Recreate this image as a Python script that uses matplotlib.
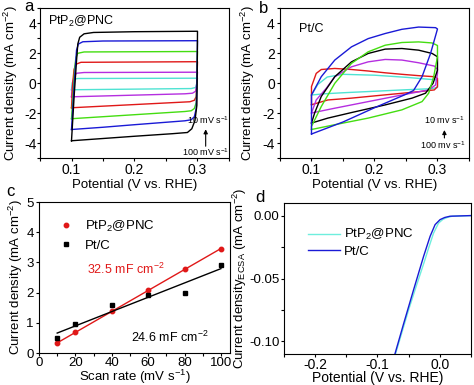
import numpy as np
import matplotlib
matplotlib.use("Agg")
import matplotlib.pyplot as plt
from matplotlib.ticker import MultipleLocator, FormatStrFormatter

plt.rcParams['font.family'] = ['Liberation Sans', 'DejaVu Sans']
plt.rcParams['mathtext.fontset'] = 'custom'
plt.rcParams['mathtext.rm'] = 'Liberation Sans'
plt.rcParams['mathtext.it'] = 'Liberation Sans:italic'
plt.rcParams['axes.unicode_minus'] = False
plt.rcParams['font.size'] = 9

# --- panel a: CVs of PtP2@PNC (closed loops, potential V / current mA cm-2)
a_black = [(0.100, -3.85), (0.104, -1.0), (0.108, 1.5), (0.110, 2.6), (0.113, 3.05), (0.120, 3.28),
           (0.135, 3.37), (0.200, 3.42), (0.300, 3.45), (0.2995, 0.5), (0.299, -1.5), (0.296, -2.5),
           (0.291, -3.05), (0.284, -3.3), (0.260, -3.38), (0.200, -3.55), (0.150, -3.7), (0.100, -3.85)]
a_blue = [(0.100, -3.1), (0.103, -1.0), (0.106, 1.0), (0.108, 2.2), (0.111, 2.6), (0.118, 2.75),
          (0.150, 2.8), (0.300, 2.82), (0.299, 0.0), (0.298, -1.7), (0.295, -2.25), (0.290, -2.45),
          (0.280, -2.52), (0.200, -2.78), (0.150, -2.95), (0.100, -3.1)]
a_green = [(0.100, -2.38), (0.103, -0.5), (0.105, 1.0), (0.107, 1.7), (0.110, 1.98), (0.120, 2.07),
           (0.300, 2.1), (0.299, 0.0), (0.298, -1.3), (0.295, -1.7), (0.290, -1.85), (0.280, -1.9),
           (0.100, -2.38)]
a_red = [(0.100, -1.65), (0.102, 0.0), (0.104, 0.9), (0.107, 1.25), (0.115, 1.38), (0.300, 1.42),
         (0.299, 0.0), (0.298, -0.9), (0.295, -1.15), (0.288, -1.25), (0.100, -1.65)]
a_magenta = [(0.100, -0.92), (0.102, 0.0), (0.104, 0.45), (0.108, 0.65), (0.120, 0.70), (0.300, 0.72),
             (0.299, 0.0), (0.297, -0.55), (0.292, -0.68), (0.280, -0.72), (0.100, -0.92)]
a_cyan = [(0.100, -0.45), (0.101, 0.0), (0.104, 0.25), (0.110, 0.30), (0.300, 0.32), (0.299, 0.0),
          (0.297, -0.3), (0.290, -0.37), (0.100, -0.45)]

# --- panel b: CVs of Pt/C
b_blue = [(0.100, -3.4), (0.100, -0.8), (0.1155, 0.42), (0.137, 1.53), (0.1635, 2.41), (0.190, 2.96),
          (0.217, 3.3), (0.2435, 3.58), (0.270, 3.73), (0.297, 3.69), (0.300, 3.6), (0.289, 1.97),
          (0.2755, 0.42), (0.262, -0.5), (0.250, -0.75), (0.200, -1.65), (0.150, -2.6), (0.100, -3.4)]
b_green = [(0.100, -3.1), (0.100, -2.9), (0.1155, -1.57), (0.137, -0.02), (0.1635, 1.31), (0.190, 2.08),
           (0.217, 2.52), (0.2435, 2.7), (0.270, 2.74), (0.2915, 2.67), (0.300, 2.5), (0.300, 1.75),
           (0.294, 0.42), (0.286, -0.68), (0.2755, -1.24), (0.2435, -1.79), (0.190, -2.34),
           (0.137, -2.78), (0.100, -3.1)]
b_black = [(0.100, -2.67), (0.105, -2.0), (0.1155, -0.9), (0.137, 0.42), (0.1635, 1.41), (0.190, 1.97),
           (0.217, 2.26), (0.2435, 2.3), (0.270, 2.19), (0.2915, 1.97), (0.300, 1.75), (0.300, 0.86),
           (0.293, -0.02), (0.281, -0.68), (0.2595, -1.01), (0.217, -1.46), (0.1635, -1.97),
           (0.126, -2.34), (0.100, -2.67)]
b_magenta = [(0.100, -2.0), (0.1075, -1.13), (0.1235, -0.35), (0.137, 0.42), (0.1635, 1.08), (0.190, 1.41),
             (0.217, 1.57), (0.2435, 1.53), (0.270, 1.35), (0.295, 1.13), (0.300, 0.9), (0.300, 0.64),
             (0.297, -0.13), (0.286, -0.46), (0.2435, -0.8), (0.190, -1.24), (0.137, -1.68), (0.100, -2.0)]
b_red = [(0.100, -1.45), (0.100, -0.24), (0.1075, 0.64), (0.1155, 0.9), (0.137, 0.97), (0.1635, 0.9),
         (0.190, 0.8), (0.217, 0.68), (0.2435, 0.58), (0.270, 0.49), (0.295, 0.42), (0.300, 0.31),
         (0.300, -0.24), (0.295, -0.46), (0.270, -0.58), (0.217, -0.79), (0.163, -1.01), (0.126, -1.13),
         (0.100, -1.45)]
b_cyan = [(0.100, -0.8), (0.110, -0.1), (0.125, 0.4), (0.150, 0.58), (0.200, 0.52), (0.250, 0.38),
          (0.300, 0.2), (0.300, -0.3), (0.290, -0.38), (0.250, -0.45), (0.200, -0.55), (0.150, -0.65),
          (0.120, -0.72), (0.100, -0.8)]

# --- panel c: current density vs scan rate
scan_rate = [10, 20, 40, 60, 80, 100]
j_ptp2 = [0.33, 0.68, 1.38, 2.08, 2.77, 3.45]
j_ptc = [0.50, 0.95, 1.60, 1.92, 2.00, 2.92]

# --- panel d: ECSA-normalised LSV
d_ptp2_x = [-0.071, -0.062, -0.050, -0.037, -0.025, -0.018, -0.010, -0.002, 0.005, 0.012, 0.020, 0.050]
d_ptp2_y = [-0.110, -0.095, -0.075, -0.055, -0.037, -0.026, -0.014, -0.006, -0.003, -0.0015, -0.0005, 0.0]
d_ptc_x = [-0.0725, -0.058, -0.042, -0.026, -0.0155, -0.0075, 0.0005, 0.008, 0.0165, 0.050]
d_ptc_y = [-0.111, -0.086, -0.059, -0.0325, -0.0165, -0.0072, -0.0032, -0.0015, -0.0005, 0.0]

BLUE = '#1a1ad6'
GREEN = '#44dd11'
RED = '#e01818'
MAGENTA = '#b52ee0'
CYAN = '#4fe3d3'
CYAN_D = '#6eeedd'


def style(ax, size, ypad=1.5, xpad=1.5):
    ax.tick_params(which='both', direction='out', length=2.2, width=0.8, labelsize=size)
    ax.tick_params(axis='x', pad=xpad)
    ax.tick_params(axis='y', pad=ypad)
    for s in ax.spines.values():
        s.set_linewidth(0.8)


def loop(ax, pts, color):
    pts = np.array(pts)
    ax.plot(pts[:, 0], pts[:, 1], color=color, lw=1.0)


fig = plt.figure(figsize=(4.74, 3.85), dpi=100)
ax_a = fig.add_axes([0.0844, 0.5896, 0.3987, 0.3896])
ax_b = fig.add_axes([0.5907, 0.5896, 0.3987, 0.3896])
ax_c = fig.add_axes([0.0823, 0.0831, 0.4030, 0.3922])
ax_d = fig.add_axes([0.5990, 0.0805, 0.3945, 0.3922])

# panel a
for pts, col in [(a_cyan, CYAN), (a_magenta, MAGENTA), (a_red, RED), (a_green, GREEN),
                 (a_blue, BLUE), (a_black, 'black')]:
    loop(ax_a, pts, col)
ax_a.text(0.042, 0.913, 'PtP$_2$@PNC', transform=ax_a.transAxes, fontsize=9, va='center')
ax_a.text(0.316, -2.47, '10 mV s$^{-1}$', fontsize=6.5, ha='center', va='center')
ax_a.text(0.313, -4.6, '100 mV s$^{-1}$', fontsize=6.5, ha='center', va='center')
ax_a.annotate('', xy=(0.313, -2.9), xytext=(0.313, -4.4),
              arrowprops=dict(arrowstyle='-|>', color='black', lw=0.8, mutation_scale=6))

# panel b
for pts, col in [(b_cyan, CYAN), (b_red, RED), (b_magenta, MAGENTA), (b_black, 'black'),
                 (b_green, GREEN), (b_blue, BLUE)]:
    loop(ax_b, pts, col)
ax_b.text(0.099, 0.861, 'Pt/C', transform=ax_b.transAxes, fontsize=9, va='center')
ax_b.text(0.311, -2.45, '10 mv s$^{-1}$', fontsize=6.5, ha='center', va='center')
ax_b.text(0.308, -4.11, '100 mv s$^{-1}$', fontsize=6.5, ha='center', va='center')
ax_b.annotate('', xy=(0.311, -2.95), xytext=(0.311, -3.85),
              arrowprops=dict(arrowstyle='-|>', color='black', lw=0.8, mutation_scale=6))

for ax, ypad, lpad in ((ax_a, 0.3, 3.0), (ax_b, 1.5, 3.5)):
    ax.set_xlim(0.05, 0.35)
    ax.set_ylim(-5, 5)
    ax.xaxis.set_major_locator(MultipleLocator(0.1))
    ax.xaxis.set_minor_locator(MultipleLocator(0.05))
    ax.yaxis.set_major_locator(MultipleLocator(2))
    ax.yaxis.set_minor_locator(MultipleLocator(1))
    ax.set_xlabel('Potential (V vs. RHE)', fontsize=9.5, labelpad=1)
    ax.set_ylabel('Current density (mA cm$^{-2}$)', fontsize=9.5, labelpad=lpad)
    style(ax, 10, ypad=ypad)

# panel c
sr = np.array(scan_rate, dtype=float)
for jv, col, mk, lab in [(j_ptp2, RED, 'o', 'PtP$_2$@PNC'), (j_ptc, 'black', 's', 'Pt/C')]:
    k, b0 = np.polyfit(sr, jv, 1)
    ax_c.plot(sr, k * sr + b0, color=col, lw=1.0)
    ax_c.plot(sr, jv, mk, color=col, ms=3.2, ls='none', label=lab)
ax_c.legend(loc='upper left', bbox_to_anchor=(0.06, 0.95), frameon=False, fontsize=9.5,
            handlelength=1.0, handletextpad=0.9, labelspacing=0.45, borderpad=0.2)
ax_c.text(0.455, 0.556, '32.5 mF cm$^{-2}$', color=RED, transform=ax_c.transAxes,
          fontsize=9, ha='center', va='center')
ax_c.text(0.686, 0.106, '24.6 mF cm$^{-2}$', color='black', transform=ax_c.transAxes,
          fontsize=9, ha='center', va='center')
ax_c.set_xlim(0, 105)
ax_c.set_ylim(0, 5)
ax_c.xaxis.set_major_locator(MultipleLocator(20))
ax_c.xaxis.set_minor_locator(MultipleLocator(10))
ax_c.yaxis.set_major_locator(MultipleLocator(1))
ax_c.set_xlabel('Scan rate (mV s$^{-1}$)', fontsize=9.5, labelpad=-1)
ax_c.set_ylabel('Current density (mA cm$^{-2}$)', fontsize=9.5, labelpad=1)
style(ax_c, 9.5, xpad=0.8)

# panel d
ax_d.plot(d_ptp2_x, d_ptp2_y, color=CYAN_D, lw=1.0, label='PtP$_2$@PNC')
ax_d.plot(d_ptc_x, d_ptc_y, color=BLUE, lw=1.0, label='Pt/C')
ax_d.legend(loc='upper left', bbox_to_anchor=(0.08, 0.9), frameon=False, fontsize=9.5,
            handlelength=2.4, handletextpad=0.3, labelspacing=0.25, borderpad=0.2)
ax_d.set_xlim(-0.25, 0.05)
ax_d.set_ylim(-0.11, 0.01)
ax_d.xaxis.set_major_locator(MultipleLocator(0.1))
ax_d.xaxis.set_minor_locator(MultipleLocator(0.05))
ax_d.yaxis.set_major_locator(MultipleLocator(0.05))
ax_d.yaxis.set_minor_locator(MultipleLocator(0.025))
ax_d.yaxis.set_major_formatter(FormatStrFormatter('%.2f'))
ax_d.set_xlabel('Potential (V vs. RHE)', fontsize=10, labelpad=-1)
ax_d.set_ylabel('Current density$_{\\mathrm{ECSA}}$ (mA cm$^{-2}$)', fontsize=9.5, labelpad=0)
style(ax_d, 9.5, xpad=0.8, ypad=1.0)
ax_d.tick_params(axis='x', labelsize=10)

for lab, x, y in [('a', 0.061, 0.984), ('b', 0.557, 0.979), ('c', 0.022, 0.503), ('d', 0.549, 0.488)]:
    fig.text(x, y, lab, fontsize=12, ha='center', va='center')

fig.savefig('out.png', dpi=100)
